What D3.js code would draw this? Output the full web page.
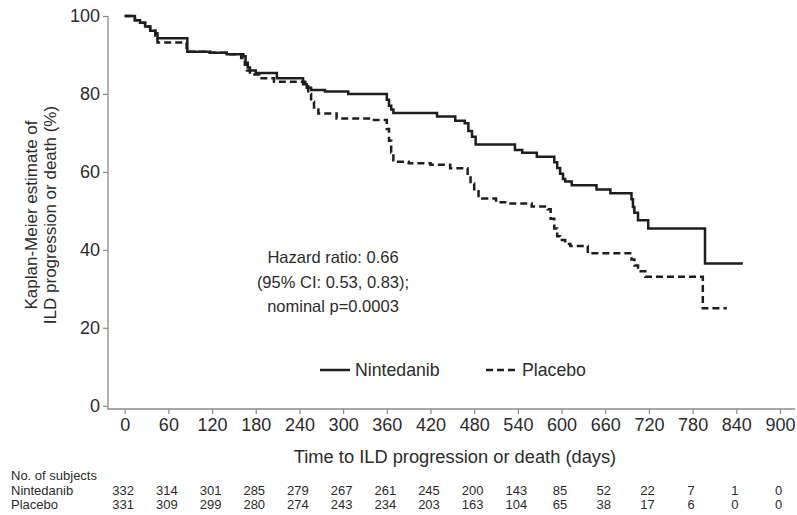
<!DOCTYPE html>
<html><head><meta charset="utf-8">
<script src="https://cdn.jsdelivr.net/npm/d3@7"></script>
<style>
body{margin:0;background:#fff;}
svg text{font-family:"Liberation Sans",Arial,Helvetica,sans-serif;}
</style></head>
<body><svg id="c" width="797" height="515"></svg>
<script>
// ---- data ----
const xTicks = [0,60,120,180,240,300,360,420,480,540,600,660,720,780,840,900];
const yTicks = [0,20,40,60,80,100];

const nintedanibTimes  = [0,14,21,28,35,42,45,86,117,140,163,166,169,172,180,209,245,250,256,275,307,360,363,366,369,429,454,467,472,477,482,536,546,566,590,594,598,602,605,614,648,667,696,698,700,705,719,797];
const nintedanibValues = [100,98.9,98.3,97.3,96.2,95.6,94.3,90.8,90.6,90.2,89.7,88.0,86.8,86.0,85.4,84.0,82.5,81.6,81.0,80.6,80.0,78.5,77.0,76.0,75.1,74.2,73.1,72.5,70.5,69.0,67.0,65.6,64.9,63.9,62.5,61.0,59.5,58.2,57.5,56.6,55.5,54.5,53.0,51.0,49.5,47.6,45.5,36.5];
const nintedanibEnd = 849;

const placeboTimes  = [0,14,21,28,35,42,45,85,117,140,160,165,168,172,185,205,248,252,256,260,266,291,340,360,363,366,369,371,390,420,447,471,475,480,486,491,510,527,559,581,585,590,594,598,605,612,636,696,700,705,715,794];
const placeboValues = [100,98.9,98.3,97.3,96.2,95.0,93.2,90.8,90.6,90.2,89.2,87.5,86.0,85.0,84.0,83.1,82.0,80.0,78.0,76.0,75.0,73.7,73.3,71.0,68.0,65.0,63.0,62.6,62.2,61.8,60.9,59.0,57.0,55.0,53.8,53.2,52.2,51.9,51.1,50.4,48.0,45.5,43.5,42.5,41.5,41.0,39.1,37.5,36.0,34.5,33.1,25.0];
const placeboEnd = 827;

const riskLabels = ["No. of subjects","Nintedanib","Placebo"];
const riskNintedanib = [332,314,301,285,279,267,261,245,200,143,85,52,22,7,1,0];
const riskPlacebo    = [331,309,299,280,274,243,234,203,163,104,65,38,17,6,0,0];

const seriesNames = ["Nintedanib","Placebo"];
const hrText = ["Hazard ratio: 0.66","(95% CI: 0.53, 0.83);","nominal p=0.0003"];

// ---- drawing ----
const svg = d3.select("#c");
const x = d3.scaleLinear().domain([0,900]).range([124.7,780]);
const y = d3.scaleLinear().domain([0,100]).range([405.7,16]);
const axisColor = "#8a8a8a", textColor = "#2b2b2b", lineColor = "#1e1e1e";

// y axis
const yAxis = svg.append("g").attr("transform","translate(108,0)")
  .call(d3.axisLeft(y).tickValues(yTicks).tickSize(5).tickPadding(3));
yAxis.select(".domain").remove();
yAxis.selectAll(".tick line").attr("stroke",axisColor).attr("stroke-width",1.2);
yAxis.selectAll(".tick text").attr("fill",textColor).style("font-size","18px");
svg.append("line").attr("x1",108).attr("x2",108).attr("y1",y(100)).attr("y2",409.5)
  .attr("stroke",axisColor).attr("stroke-width",1.3);

// x axis
const xAxis = svg.append("g").attr("transform","translate(0,409)")
  .call(d3.axisBottom(x).tickValues(xTicks).tickSize(5).tickPadding(4));
xAxis.select(".domain").remove();
xAxis.selectAll(".tick line").attr("stroke",axisColor).attr("stroke-width",1.2);
xAxis.selectAll(".tick text").attr("fill",textColor).style("font-size","18px");
svg.append("line").attr("x1",107.5).attr("x2",795).attr("y1",409).attr("y2",409)
  .attr("stroke",axisColor).attr("stroke-width",1.3);

// axis titles
svg.append("text").attr("x",455).attr("y",463).attr("text-anchor","middle")
  .attr("fill",textColor).style("font-size","18.3px")
  .text("Time to ILD progression or death (days)");
const yt = svg.append("text").attr("transform","translate(0,215) rotate(-90)")
  .attr("text-anchor","middle").attr("fill",textColor).style("font-size","17px");
yt.append("tspan").attr("x",0).attr("y",36.5).text("Kaplan-Meier estimate of");
yt.append("tspan").attr("x",0).attr("y",56).text("ILD progression or death (%)");

// curves
const line = d3.line().x(d=>x(d[0])).y(d=>y(d[1])).curve(d3.curveStepAfter);
function pts(times, vals, end){
  const p = times.map((t,i)=>[t, vals[i]]);
  p.push([end, vals[vals.length-1]]);
  return p;
}
svg.append("path").datum(pts(placeboTimes,placeboValues,placeboEnd))
  .attr("d",line).attr("fill","none").attr("stroke",lineColor)
  .attr("stroke-width",2.5).attr("stroke-dasharray","7,4");
svg.append("path").datum(pts(nintedanibTimes,nintedanibValues,nintedanibEnd))
  .attr("d",line).attr("fill","none").attr("stroke",lineColor)
  .attr("stroke-width",2.5);

// annotation
hrText.forEach((t,i)=>{
  svg.append("text").attr("x",333).attr("y",263+i*24.5).attr("text-anchor","middle")
    .attr("fill",textColor).style("font-size","16.5px").text(t);
});

// legend
const legend = svg.append("g");
legend.append("line").attr("x1",320).attr("x2",350).attr("y1",370).attr("y2",370)
  .attr("stroke",lineColor).attr("stroke-width",2.5);
legend.append("text").attr("x",355).attr("y",376).attr("fill",textColor)
  .style("font-size","17.7px").text(seriesNames[0]);
legend.append("line").attr("x1",486).attr("x2",517).attr("y1",370).attr("y2",370)
  .attr("stroke",lineColor).attr("stroke-width",2.5).attr("stroke-dasharray","7,4");
legend.append("text").attr("x",522).attr("y",376).attr("fill",textColor)
  .style("font-size","17.7px").text(seriesNames[1]);

// risk table
const rowY = [480,495,509];
riskLabels.forEach((t,i)=>{
  svg.append("text").attr("x",11).attr("y",rowY[i]).attr("fill",textColor)
    .style("font-size","13px").text(t);
});
[riskNintedanib, riskPlacebo].forEach((arr,r)=>{
  svg.append("g").selectAll("text").data(arr).join("text")
    .attr("x",(d,i)=>x(xTicks[i]) - 1.5).attr("y",rowY[r+1]).attr("text-anchor","middle")
    .attr("fill",textColor).style("font-size","13px").text(d=>d);
});
</script></body></html>
